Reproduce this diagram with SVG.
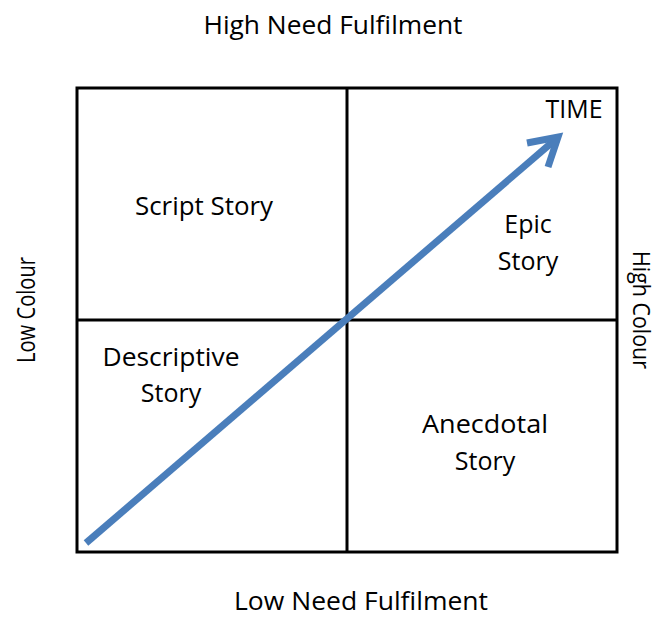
<svg xmlns="http://www.w3.org/2000/svg" width="659" height="618" viewBox="0 0 659 618">
<style>
  text { font-family: "Open Sans", "Liberation Sans", sans-serif; font-size: 25px; fill: #000; text-anchor: middle; }
  .frame { fill: none; stroke: #000; stroke-width: 3; }
  .arrow { fill: none; stroke: #4a7ebb; stroke-width: 7; }
</style>
<rect width="659" height="618" fill="#fff"/>
<g id="axes-labels">
  <text x="333" y="34" textLength="259" lengthAdjust="spacingAndGlyphs">High Need Fulfilment</text>
  <text x="361" y="610" textLength="254" lengthAdjust="spacingAndGlyphs">Low Need Fulfilment</text>
  <text transform="translate(35,310) rotate(-90)" textLength="106" lengthAdjust="spacingAndGlyphs">Low Colour</text>
  <text transform="translate(633,310) rotate(90)" style="font-size:24px" textLength="118" lengthAdjust="spacingAndGlyphs">High Colour</text>
</g>
<g id="grid">
  <rect class="frame" x="77" y="88" width="540" height="464"/>
  <line class="frame" x1="347" y1="88" x2="347" y2="552"/>
  <line class="frame" x1="77" y1="320" x2="617" y2="320"/>
</g>
<g id="script-story"><text x="204" y="215" textLength="138" lengthAdjust="spacingAndGlyphs">Script Story</text></g>
<g id="epic-story"><text x="528" y="233">Epic</text><text x="528" y="270">Story</text></g>
<g id="descriptive-story"><text x="171" y="366" textLength="137" lengthAdjust="spacingAndGlyphs">Descriptive</text><text x="171" y="402">Story</text></g>
<g id="anecdotal-story"><text x="485" y="433" textLength="126" lengthAdjust="spacingAndGlyphs">Anecdotal</text><text x="485" y="470">Story</text></g>
<g id="connectors">
  <line class="arrow" x1="86" y1="543" x2="556" y2="139"/>
  <polyline class="arrow" points="527,143 558,137 548,167" stroke-linejoin="miter"/>
</g>
<g id="time-label"><text x="574" y="118" textLength="57" lengthAdjust="spacingAndGlyphs">TIME</text></g>
</svg>
